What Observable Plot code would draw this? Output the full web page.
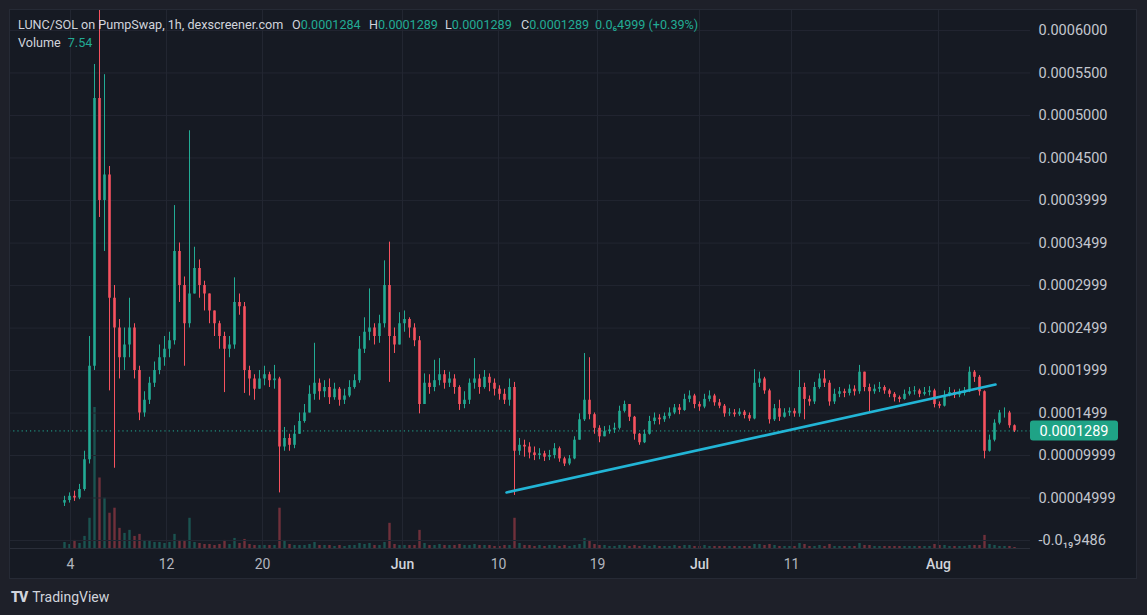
<!DOCTYPE html>
<html>
<head>
<meta charset="utf-8">
<script src="https://cdn.jsdelivr.net/npm/d3@7"></script>
<script src="https://cdn.jsdelivr.net/npm/@observablehq/plot@0.6"></script>
<style>
  html, body { margin: 0; padding: 0; background: #1e2029; width: 1147px; height: 615px; overflow: hidden; font-family: Roboto, "Noto Sans", sans-serif; }
  #wrap { position: relative; width: 1147px; height: 615px; }
  #panel { position: absolute; left: 9px; top: 9px; width: 1128px; height: 570px; background: #161a23; overflow: hidden; }
  #panel svg { position: absolute; left: -9px; top: -9px; max-width: none !important; width: 1147px; height: 579px; }
  #frame { position: absolute; left: 9px; top: 9px; width: 1128px; height: 570px; border: 1px solid #262a35; box-sizing: border-box; pointer-events: none; }
  .lg { position: absolute; font-size: 12.6px; line-height: 16px; color: #d1d4dc; white-space: nowrap; }
  .v { color: #22ab94; }
  #footer { position: absolute; left: 11px; top: 589px; font-size: 14px; color: #d1d4dc; white-space: nowrap; }
  #footer b { font-weight: 900; letter-spacing: -1px; margin-right: 5px; font-size: 14px; }
</style>
</head>
<body>
<div id="wrap">
  <div id="panel"></div>
  <div id="frame"></div>
  <div class="lg" style="left:18px;top:17px">LUNC/SOL on PumpSwap, 1h, dexscreener.com</div>
  <div class="lg" style="left:292px;top:17px">O<span class="v">0.0001284</span></div>
  <div class="lg" style="left:369px;top:17px">H<span class="v">0.0001289</span></div>
  <div class="lg" style="left:445px;top:17px">L<span class="v">0.0001289</span></div>
  <div class="lg" style="left:521px;top:17px">C<span class="v">0.0001289</span></div>
  <div class="lg" style="left:595px;top:17px"><span class="v">0.0₆4999 (+0.39%)</span></div>
  <div class="lg" style="left:18px;top:35px">Volume <span class="v" style="margin-left:4px">7.54</span></div>
  <div id="footer"><b>TV</b>TradingView</div>
</div>
<script>
// ---- data (prices in millionths of SOL: 128.9 => 0.0001289) ----
const firstOpenMicro = 44;
const closeMicro = [
  47, 52, 50, 60, 95, 205, 520, 400, 430, 285,
  250, 215, 230, 250, 200, 150, 165, 185, 200, 215,
  225, 235, 340, 300, 255, 290, 320, 300, 290, 270,
  255, 240, 225, 230, 280, 275, 200, 190, 178, 190,
  195, 188, 190, 110, 120, 112, 125, 140, 150, 172,
  185, 175, 180, 168, 178, 165, 170, 180, 188, 225,
  245, 250, 240, 255, 300, 240, 230, 255, 260, 250,
  235, 160, 185, 180, 188, 195, 185, 190, 180, 160,
  165, 185, 190, 180, 192, 185, 178, 172, 165, 180,
  105, 112, 110, 103, 100, 102, 98, 100, 108, 96,
  90, 96, 118, 142, 165, 148, 132, 122, 128, 130,
  132, 152, 160, 145, 125, 115, 125, 140, 144, 142,
  146, 150, 156, 153, 166, 170, 160, 157, 166, 170,
  162, 158, 149, 150, 148, 151, 147, 143, 185, 190,
  176, 142, 155, 145, 150, 152, 149, 180, 166, 163,
  180, 190, 185, 163, 172, 175, 173, 178, 175, 198,
  180, 175, 178, 180, 176, 172, 168, 166, 172, 175,
  176, 172, 174, 176, 160, 158, 170, 174, 171, 173,
  175, 198, 192, 175, 105, 118, 138, 150, 150, 135,
  128.9
];
const highMicro = [
  52, 56, 58, 66, 105, 240, 560, 640, 548, 440,
  300, 260, 250, 285, 255, 205, 175, 192, 210, 230,
  240, 245, 394, 350, 310, 482, 345, 330, 305, 290,
  270, 258, 245, 240, 309, 290, 280, 205, 195, 200,
  205, 198, 206, 192, 133, 125, 135, 150, 160, 182,
  232, 190, 188, 190, 185, 180, 178, 188, 195, 240,
  262, 296, 255, 265, 329, 351, 250, 268, 270, 262,
  255, 240, 196, 195, 212, 214, 200, 198, 195, 182,
  175, 190, 214, 195, 200, 196, 190, 182, 178, 190,
  186, 120, 118, 115, 110, 108, 105, 106, 114, 110,
  98, 100, 122, 149, 220, 215, 150, 135, 134, 135,
  138, 158, 164, 158, 146, 126, 130, 146, 150, 148,
  150, 156, 160, 160, 172, 176, 172, 163, 172, 176,
  172, 166, 160, 155, 154, 155, 153, 150, 201, 198,
  192, 178, 160, 165, 155, 156, 155, 200, 185, 170,
  186, 196, 200, 188, 178, 180, 178, 183, 182, 206,
  196, 184, 183, 186, 182, 178, 174, 170, 177, 180,
  181, 178, 180, 181, 178, 163, 176, 180, 177, 178,
  180, 204, 200, 194, 176, 124, 142, 153, 156, 152,
  136
];
const lowMicro = [
  40, 44, 46, 48, 58, 90, 200, 380, 340, 176,
  85, 190, 200, 215, 190, 141, 145, 160, 180, 195,
  205, 215, 230, 280, 205, 250, 300, 285, 270, 255,
  240, 225, 174, 215, 225, 265, 173, 170, 165, 178,
  182, 180, 178, 56, 105, 105, 108, 125, 138, 150,
  165, 165, 168, 160, 165, 158, 160, 168, 178, 185,
  220, 235, 230, 232, 250, 186, 220, 235, 245, 238,
  228, 149, 160, 172, 175, 182, 178, 180, 172, 153,
  155, 160, 178, 172, 178, 175, 170, 165, 160, 158,
  53, 100, 98, 96, 94, 95, 93, 94, 96, 92,
  87, 88, 95, 118, 140, 142, 125, 115, 122, 125,
  126, 130, 150, 140, 118, 112, 114, 124, 136, 136,
  139, 143, 148, 148, 152, 162, 155, 152, 155, 163,
  158, 155, 145, 146, 145, 146, 143, 140, 142, 180,
  172, 137, 140, 140, 144, 146, 145, 145, 142, 158,
  160, 178, 180, 158, 160, 168, 168, 170, 170, 172,
  175, 150, 172, 174, 172, 168, 163, 162, 165, 170,
  171, 168, 170, 170, 156, 155, 157, 169, 167, 168,
  170, 174, 186, 170, 96, 104, 116, 136, 144, 132,
  127
];
const volumeSol = [
  6, 4, 8, 5, 12, 30, 140, 70, 50, 35,
  40, 20, 15, 18, 12, 14, 8, 7, 6, 6,
  5, 6, 14, 8, 8, 30, 6, 5, 4, 4,
  3, 4, 8, 4, 10, 5, 9, 4, 3, 3,
  3, 3, 3, 40, 8, 4, 3, 3, 3, 4,
  6, 3, 3, 3, 2, 3, 2, 3, 3, 5,
  4, 5, 3, 3, 6, 25, 4, 3, 3, 3,
  3, 18, 5, 3, 3, 4, 3, 3, 3, 4,
  3, 3, 4, 3, 3, 3, 2, 2, 3, 3,
  30, 5, 3, 3, 2, 3, 2, 3, 3, 2,
  3, 2, 3, 4, 10, 8, 4, 3, 3, 2,
  2, 3, 3, 2, 3, 2, 3, 2, 3, 2,
  2, 2, 3, 2, 3, 3, 2, 2, 3, 2,
  2, 2, 2, 2, 2, 2, 2, 2, 4, 4,
  3, 4, 3, 2, 2, 2, 2, 5, 4, 2,
  2, 3, 2, 4, 2, 2, 2, 2, 2, 5,
  3, 3, 2, 2, 2, 2, 2, 2, 2, 2,
  2, 2, 2, 2, 4, 3, 3, 2, 2, 2,
  2, 3, 3, 3, 13, 4, 3, 2, 2, 2,
  1
];
const xTickPos = [1.2, 20.4, 39.6, 67.6, 86.8, 106.6, 127, 145.4, 174.8];
const xTickLabels = ["4", "12", "20", "Jun", "10", "19", "Jul", "11", "Aug"];
const xTickIsMonth = [false, false, false, true, false, false, true, false, true];
const yTickValues = [0.0006, 0.00055, 0.0005, 0.00045, 0.0003999, 0.0003499, 0.0002999, 0.0002499, 0.0001999, 0.0001499, 0.00009999, 0.00004999, -9.486e-23];
const yTickLabels = ["0.0006000", "0.0005500", "0.0005000", "0.0004500", "0.0003999", "0.0003499", "0.0002999", "0.0002499", "0.0001999", "0.0001499", "0.00009999", "0.00004999", "-0.0₁₉9486"];
const trendBar = [88.4, 186.2];
const trendMicro = [56.5, 183.5];

// ---- build tables ----
const candles = closeMicro.map((c, i) => {
  const o = i === 0 ? firstOpenMicro : closeMicro[i - 1];
  const h = Math.max(highMicro[i], o, c);
  const l = Math.min(lowMicro[i], o, c);
  return { i, open: o / 1e6, close: c / 1e6, high: h / 1e6, low: l / 1e6, volume: volumeSol[i], up: c >= o };
});
const trend = trendBar.map((x, k) => ({ x, y: trendMicro[k] / 1e6 }));
const lastPrice = closeMicro[closeMicro.length - 1] / 1e6;
const yLabelMap = new Map(yTickValues.map((v, i) => [v, yTickLabels[i]]));
const xTicks = xTickPos.map((x, i) => ({ x, label: xTickLabels[i], month: xTickIsMonth[i] }));

const UP = "#22ab94", DOWN = "#f7525f", GRID = "#222631";
const xDomain = [-11, 193.2];
const yDomain = [-9.41e-6, 623.5e-6];
const common = { width: 1147, height: 579, marginLeft: 9, marginRight: 117, marginTop: 10, marginBottom: 31 };

const volPlot = Plot.plot({
  ...common,
  x: { domain: xDomain, axis: null },
  y: { domain: [0, 534], axis: null },
  style: { background: "transparent", maxWidth: "none" },
  marks: [
    Plot.ruleX(candles, { x: "i", y1: 0, y2: "volume", stroke: d => d.up ? UP : DOWN, strokeOpacity: 0.4, strokeWidth: 2.4 })
  ]
});

const mainPlot = Plot.plot({
  ...common,
  x: { domain: xDomain, axis: null },
  y: { domain: yDomain, axis: null },
  style: { background: "transparent", maxWidth: "none", fontFamily: "Roboto, 'Noto Sans', 'DejaVu Sans', sans-serif" },
  marks: [
    Plot.gridY(yTickValues, { stroke: GRID, strokeOpacity: 1 }),
    Plot.gridX(xTickPos, { stroke: GRID, strokeOpacity: 1 }),
    Plot.ruleY([yDomain[0]], { stroke: "#2a2e39", strokeWidth: 1 }),
    Plot.ruleY([lastPrice], { stroke: UP, strokeDasharray: "1.2,3", strokeWidth: 1 }),
    Plot.ruleX(candles, { x: "i", y1: "low", y2: "high", stroke: d => d.up ? UP : DOWN, strokeWidth: 1 }),
    Plot.ruleX(candles, { x: "i", y1: "open", y2: "close", stroke: d => d.up ? UP : DOWN, strokeWidth: 2.6 }),
    Plot.line(trend, { x: "x", y: "y", stroke: "#22b5d6", strokeWidth: 2.6 }),
    Plot.text(yTickValues, { x: () => xDomain[1], y: d => d, text: d => yLabelMap.get(d), dx: 8, textAnchor: "start", fill: "#c3c6ce", fontSize: 14.5 }),
    Plot.rect([lastPrice], { x1: () => xDomain[1], x2: () => xDomain[1], y1: d => d, y2: d => d, insetLeft: 0, insetRight: -88, insetTop: -10, insetBottom: -10, fill: "#1fa386", rx: 3 }),
    Plot.text([lastPrice], { x: () => xDomain[1], y: d => d, text: d => d3.format(".7f")(d), dx: 9, textAnchor: "start", fill: "#ffffff", fontSize: 14.5 }),
    Plot.text(xTicks.filter(d => !d.month), { x: "x", y: () => yDomain[0], text: "label", dy: 16, fill: "#b2b5be", fontSize: 14 }),
    Plot.text(xTicks.filter(d => d.month), { x: "x", y: () => yDomain[0], text: "label", dy: 16, fill: "#d1d4dc", fontSize: 14, fontWeight: 500 })
  ]
});

const panel = document.getElementById("panel");
panel.appendChild(volPlot);
panel.appendChild(mainPlot);
</script>
</body>
</html>
